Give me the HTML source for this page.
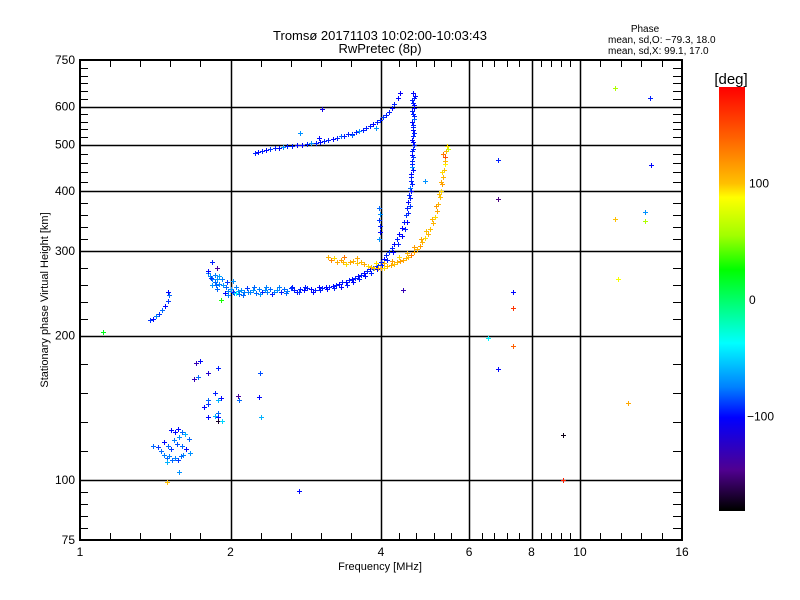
<!DOCTYPE html>
<html><head><meta charset="utf-8">
<style>
html,body{margin:0;padding:0;background:#fff;}
svg{display:block;font-family:"Liberation Sans",sans-serif;}
</style></head>
<body>
<svg id="chart" width="800" height="600" viewBox="0 0 800 600">
<defs>
<linearGradient id="cbg" x1="0" y1="0" x2="0" y2="1"></linearGradient>
</defs>
<g id="grid"></g>
<g id="points"></g>
<rect x="80" y="60" width="602" height="480" fill="none" stroke="#000" stroke-width="2"/>
<g id="ticks"></g>
<text x="380" y="40" font-size="13" text-anchor="middle">Tromsø 20171103 10:02:00-10:03:43</text>
<text x="380" y="53" font-size="13" text-anchor="middle">RwPretec (8p)</text>
<text x="645" y="32" font-size="10" text-anchor="middle">Phase</text>
<text x="608" y="43" font-size="10">mean, sd,O: −79.3, 18.0</text>
<text x="608" y="54" font-size="10">mean, sd,X:  99.1, 17.0</text>
<text x="380" y="570" font-size="11" text-anchor="middle">Frequency [MHz]</text>
<text x="0" y="0" font-size="11" text-anchor="middle" transform="translate(48,300) rotate(-90)">Stationary phase Virtual Height [km]</text>
<rect x="719" y="87" width="26" height="424" fill="url(#cbg)"/>
<text x="731" y="84" font-size="15" text-anchor="middle">[deg]</text>
<g id="cbticks"></g>
</svg>
<script>
const xTickVals = [1, 2, 4, 6, 8, 10, 16];
const yTickVals = [75, 100, 200, 300, 400, 500, 600, 750];
const xGridVals = [2, 4, 6, 8, 10];
const yGridVals = [100, 200, 300, 400, 500, 600];
const cbTickVals = [100, 0, -100];

const freqs = [
1.80,1.82,1.84,1.86,1.88,1.90,1.93,1.96,1.98,2.00,2.02,2.05,2.08,2.10,2.13,2.16,2.19,2.22,2.25,2.28,2.31,2.34,2.37,2.40,2.44,2.48,2.52,2.56,2.60,2.64,2.68,2.72,2.76,2.80,2.85,2.90,2.95,3.00,3.05,3.10,3.15,3.20,3.25,3.30,3.35,3.40,3.45,3.50,3.55,3.60,3.65,3.70,3.75,3.80,3.85,3.90,3.95,4.00,4.05,4.10,4.15,4.20,4.25,4.30,4.35,4.40,4.44,4.48,4.51,4.54,4.56,4.58,4.59,4.60,4.61,4.62,4.62,4.63,4.63,4.64,4.64,4.64,4.65,4.64,4.65,4.64,4.65,4.64,
1.84,1.88,1.92,1.97,2.03,2.07,2.12,2.17,2.23,2.29,2.35,2.42,2.50,2.58,2.66,2.74,2.82,2.92,3.02,3.12,3.22,3.32,3.42,3.52,3.62,3.72,3.82,3.92,4.02,4.12,4.22,4.32,4.40,4.46,4.50,4.54,4.57,4.58,4.60,4.61,4.60,4.63,4.61,4.64,4.62,4.65,4.62,4.66,4.63,4.62,4.66,4.62,4.66,4.62,4.67,
3.97,3.98,3.97,3.98,3.99,3.96,
2.24,2.27,2.31,2.35,2.40,2.45,2.50,2.55,2.60,2.66,2.72,2.78,2.84,2.90,2.96,3.02,3.08,3.14,3.20,3.26,3.32,3.38,3.44,3.50,3.56,3.62,3.68,3.74,3.80,3.86,3.92,3.98,4.04,4.10,4.15,4.20,4.25,4.32,4.37,2.75,3.05,3.00,3.50,3.90,
3.13,3.18,3.22,3.27,3.32,3.36,3.41,3.46,3.52,3.58,3.64,3.70,3.76,3.82,3.88,3.94,4.00,4.06,4.12,4.18,4.24,4.30,4.36,4.42,4.48,4.54,4.60,4.66,4.72,4.78,4.84,4.90,4.96,5.02,5.08,5.13,5.17,5.21,5.25,5.28,5.30,5.32,5.34,5.36,5.38,5.40,5.42,
4.05,4.20,4.35,4.50,4.65,4.80,4.92,5.05,5.15,5.22,5.27,5.30,5.37,5.33,5.44,3.58,3.38,3.90,
1.38,1.40,1.42,1.44,1.46,1.48,1.50,1.51,1.50,1.11,
1.84,1.80,1.88,1.83,1.86,1.90,1.87,1.95,1.98,2.02,2.05,1.91,
1.43,1.45,1.47,1.49,1.51,1.53,1.55,1.57,1.59,1.61,1.47,1.50,1.52,1.54,1.56,1.58,1.60,1.62,1.65,1.52,1.55,1.57,1.60,1.40,1.63,1.66,1.49,1.58,1.49,
1.71,1.74,1.89,1.80,1.72,1.69,1.86,1.91,1.89,1.80,1.80,1.77,1.89,1.89,1.86,1.80,1.89,1.92,2.07,2.08,2.28,2.29,2.30,2.74,
11.75,13.8,6.85,13.9,4.9,6.85,13.5,11.75,13.5,11.9,7.35,7.35,6.55,7.35,6.85,12.5,9.25,9.25,4.43
];
const heights = [
270,266,262,258,262,256,255,252,248,250,246,252,244,249,247,251,246,249,245,250,247,249,246,250,247,249,246,250,248,251,249,247,250,249,251,250,249,252,251,253,252,254,255,256,258,258,261,262,264,266,268,270,273,275,277,279,281,284,289,294,299,305,311,318,326,335,345,356,368,380,393,406,420,434,448,462,476,490,505,520,535,550,565,580,595,610,625,640,
255,250,262,258,245,248,243,246,252,244,252,244,252,245,253,246,253,247,249,250,251,253,255,259,262,266,270,275,280,288,298,310,322,334,345,360,372,386,400,414,428,442,456,470,484,498,512,528,543,558,572,588,603,618,632,
368,358,348,338,328,318,
480,482,484,487,489,491,492,494,496,497,498,500,502,503,504,505,508,510,514,517,520,522,525,527,530,534,537,541,546,552,558,562,570,577,585,595,607,625,640,528,593,516,523,540,
292,287,290,285,288,285,282,284,286,283,285,282,279,278,277,276,276,277,279,280,282,284,286,288,290,292,295,299,303,308,313,319,326,334,343,353,364,376,388,401,414,428,442,456,470,484,497,
283,286,292,297,306,318,330,350,372,395,418,438,462,478,490,290,292,283,
215,217,220,222,226,230,236,243,246,203,
285,273,276,264,268,266,255,245,243,260,245,237,
117,115,113,111,112,110,111,110,112,113,120,118,116,121,119,123,118,125,122,127,126,128,126,118,116,114,109,104,99,
175,177,171,167,164,162,152,148,147,147,144,142,138,135,136,135,133,133,150,147,149,167,135,95,
655,625,465,453,420,385,362,350,346,262,247,228,198,190,170,145,124,100,249
];
const phases = [
-75,-70,-75,-80,-70,-75,-70,-80,-75,-70,-95,-75,-80,-70,-75,-90,-75,-70,-80,-75,-95,-70,-75,-80,-75,-70,-95,-80,-75,-90,-95,-100,-95,-100,-95,-100,-95,-100,-95,-100,-95,-100,-95,-100,-95,-100,-95,-100,-95,-100,-95,-100,-95,-100,-80,-95,-90,-95,-100,-95,-90,-95,-100,-95,-100,-100,-95,-90,-95,-100,-95,-80,-95,-100,-70,-95,-100,-95,-100,-95,-100,-95,-80,-95,-100,-95,-95,-100,
-70,-80,-75,-90,-75,-70,-80,-75,-80,-70,-75,-95,-75,-80,-95,-90,-95,-100,-95,-100,-95,-100,-95,-100,-95,-100,-95,-100,-95,-95,-100,-95,-100,-95,-100,-95,-90,-95,-100,-95,-95,-100,-95,-90,-95,-95,-100,-95,-95,-100,-95,-95,-100,-95,-100,
-80,-70,-90,-95,-100,-70,
-95,-100,-95,-100,-90,-95,-100,-70,-95,-95,-100,-100,-95,-70,-95,-100,-95,-95,-100,-95,-80,-95,-95,-100,-95,-70,-95,-95,-95,-100,-95,-95,-90,-95,-95,-100,-95,-100,-105,-70,-110,-100,-80,-70,
105,125,95,110,115,105,95,110,105,100,105,110,95,105,100,105,110,95,105,110,100,105,115,110,105,100,130,110,105,115,105,95,105,100,105,95,110,105,100,95,115,105,100,90,150,105,95,
105,115,95,105,115,110,100,105,115,100,110,95,105,130,70,110,130,95,
-90,-100,-75,-90,-80,-100,-90,-80,-100,20,
-95,-100,-140,-90,-75,-65,-80,-100,-75,-70,-40,30,
-90,-80,-75,-80,-75,-80,-75,-90,-80,-75,-100,-80,-90,-75,-85,-70,-80,-60,-80,-100,-100,-100,-80,-80,-100,-70,-60,-70,100,
-130,-100,-95,-120,-80,-130,-95,-100,-60,-80,-90,-100,-80,-100,-60,-100,-170,-50,-140,-80,-100,-85,-60,-100,
60,-95,-95,-100,-70,-150,-70,100,60,85,-100,160,-40,140,-100,110,-175,170,-130
];

const X0 = 80, X1 = 682, Y0 = 540, Y1 = 60;
function xScale(f){ return X0 + (X1 - X0) * Math.log2(f) / 4; }
function yScale(h){ return Y0 - (Y0 - Y1) * Math.log10(h / 75); }
function cbScale(p){ return 300 - p * 1.165; }
const NS = "http://www.w3.org/2000/svg";
function mk(tag, attrs, parent){
  const e = document.createElementNS(NS, tag);
  for (const k in attrs) e.setAttribute(k, attrs[k]);
  parent.appendChild(e);
  return e;
}
const cStops = [[183,[255,0,0]],[140,[255,96,0]],[100,[255,192,0]],[88,[255,255,0]],[55,[160,255,0]],[26,[0,255,0]],[-37,[0,255,255]],[-75,[0,128,255]],[-101,[0,0,255]],[-146,[80,0,144]],[-180,[0,0,0]]];
function phaseColor(p){
  for (let i = 0; i < cStops.length - 1; i++){
    const a = cStops[i], b = cStops[i+1];
    if (p <= a[0] && p >= b[0]){
      const t = (a[0] - p) / (a[0] - b[0]);
      const c = a[1].map((v, j) => Math.round(v + (b[1][j] - v) * t));
      return "rgb(" + c.join(",") + ")";
    }
  }
  return p > 0 ? "rgb(255,0,0)" : "rgb(0,0,0)";
}
const grad = document.getElementById("cbg");
cStops.forEach(s => {
  const off = (cbScale(s[0]) - 87) / 424;
  mk("stop", {offset: Math.max(0, Math.min(1, off)), "stop-color": "rgb(" + s[1].join(",") + ")"}, grad);
});
const grid = document.getElementById("grid");
xGridVals.forEach(v => {
  const x = Math.round(xScale(v)) + 0.5;
  const l = mk("line", {x1:x, y1:Y1, x2:x, y2:Y0, stroke:"#000", "stroke-width":1.5}, grid);
  
  
});
yGridVals.forEach(v => {
  const y = Math.round(yScale(v)) + 0.5;
  const l = mk("line", {x1:X0, y1:y, x2:X1, y2:y, stroke:"#000", "stroke-width":1.5}, grid);
  
  
});
const ticks = document.getElementById("ticks");
for (let i = 0; i < xTickVals.length - 1; i++){
  const a = xScale(xTickVals[i]), b = xScale(xTickVals[i+1]);
  for (let k = 1; k < 5; k++){
    const x = Math.round(a + (b - a) * k / 5) + 0.5;
    const t1 = mk("line", {x1:x, y1:Y0, x2:x, y2:Y0-7, stroke:"#000"}, ticks);
    
    
    const t2 = mk("line", {x1:x, y1:Y1, x2:x, y2:Y1+7, stroke:"#000"}, ticks);
    
    
  }
}
for (let i = 0; i < yTickVals.length - 1; i++){
  const a = yScale(yTickVals[i]), b = yScale(yTickVals[i+1]);
  const n = (i === yTickVals.length - 2) ? 6 : 5;
  for (let k = 1; k < n; k++){
    const y = Math.round(a + (b - a) * k / n) + 0.5;
    const t1 = mk("line", {x1:X0, y1:y, x2:X0+8, y2:y, stroke:"#000"}, ticks);
    
    
    const t2 = mk("line", {x1:X1, y1:y, x2:X1-9, y2:y, stroke:"#000"}, ticks);
    
    
  }
}
xTickVals.forEach(v => {
  const t = mk("text", {x:xScale(v), y:556, "font-size":12, "text-anchor":"middle"}, ticks);
  t.textContent = v;
  
  
});
yTickVals.forEach(v => {
  const t = mk("text", {x:75, y:yScale(v)+4, "font-size":12, "text-anchor":"end"}, ticks);
  t.textContent = v;
  
  
});
const cbt = document.getElementById("cbticks");
cbTickVals.forEach(v => {
  const t = mk("text", {x:v < 0 ? 747 : 749, y:cbScale(v)+4, "font-size":12}, cbt);
  t.textContent = v < 0 ? "\u2212" + Math.abs(v) : String(v);
  
  
});
const pts = document.getElementById("points");
for (let i = 0; i < freqs.length; i++){
  const x = Math.round(xScale(freqs[i])) + 0.5, y = Math.round(yScale(heights[i])) + 0.5;
  const p = mk("path", {d:"M"+(x-2.5)+" "+y+"h5M"+x+" "+(y-2.5)+"v5", stroke:phaseColor(phases[i]), "stroke-width":1, "shape-rendering":"crispEdges", fill:"none"}, pts);
  
  
}
</script>
</body></html>
